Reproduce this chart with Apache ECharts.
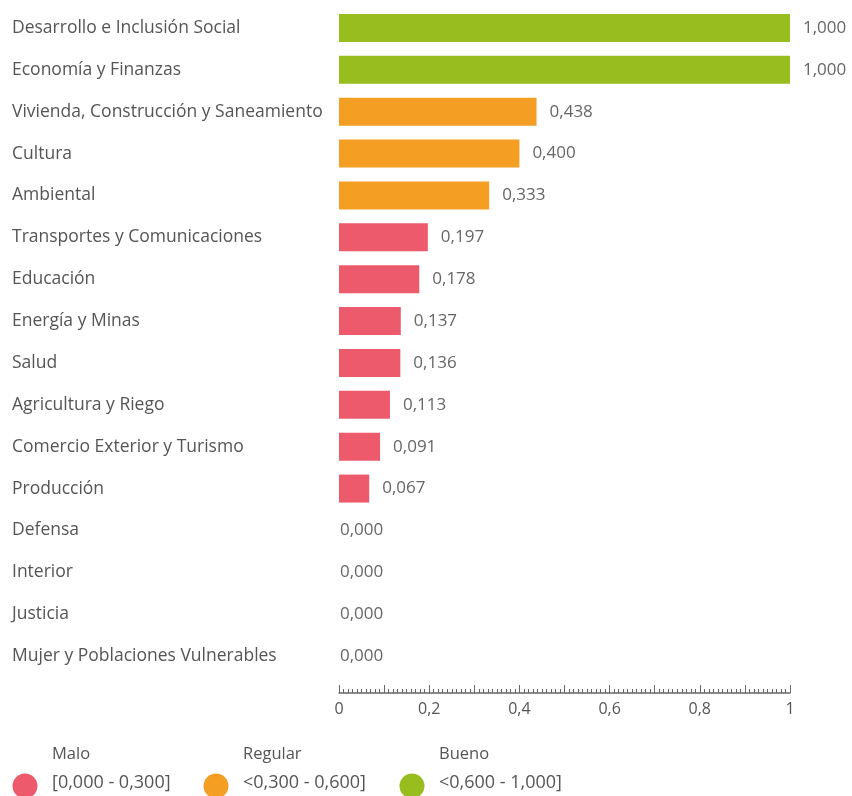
<!DOCTYPE html>
<html><head><meta charset="utf-8">
<script src="https://cdn.jsdelivr.net/npm/echarts@6/dist/echarts.min.js"></script>
<style>html,body{margin:0;padding:0;background:#fff}#c{width:852px;height:796px}</style>
</head><body><div id="c"></div>
<script>
const categories = ["Desarrollo e Inclusión Social","Economía y Finanzas","Vivienda, Construcción y Saneamiento","Cultura","Ambiental","Transportes y Comunicaciones","Educación","Energía y Minas","Salud","Agricultura y Riego","Comercio Exterior y Turismo","Producción","Defensa","Interior","Justicia","Mujer y Poblaciones Vulnerables"];
const values = [1.000,1.000,0.438,0.400,0.333,0.197,0.178,0.137,0.136,0.113,0.091,0.067,0,0,0,0];
const legendNames = ["Malo","Regular","Bueno"];
const legendRanges = ["[0,000 - 0,300]","<0,300 - 0,600]","<0,600 - 1,000]"];
const thresholds = [0.3,0.6,1.0];
const colors = ["#ec5a6b","#f49e23","#98bd1f"];

const FONT = "'Open Sans', sans-serif";
const fmt3 = v => v.toFixed(3).replace('.', ',');
function colorFor(v){ for(let i=0;i<thresholds.length;i++){ if(v<=thresholds[i]) return colors[i]; } return colors[colors.length-1]; }

const data = values.map(v => ({
  value: v,
  itemStyle: {color: colorFor(v)},
  label: {distance: v === 0 ? 1 : 13}
}));

const legendX = [25, 216, 412];
const graphic = [];
legendNames.forEach((n,i)=>{
  graphic.push({type:'circle', shape:{cx:legendX[i], cy:786, r:12.5}, style:{fill:colors[i]}});
  graphic.push({type:'text', left: legendX[i]+27, top: 746, style:{text:n, fill:'#555', font:'16.5px '+FONT}});
  graphic.push({type:'text', left: legendX[i]+27, top: 774, style:{text:legendRanges[i], fill:'#555', font:'18px '+FONT}});
});

const chart = echarts.init(document.getElementById('c'));
chart.setOption({
  animation:false,
  grid:{left:339, right:62, top:7, height:670},
  xAxis:{type:'value', min:0, max:1, interval:0.1, offset:16,
    axisLine:{show:true, lineStyle:{color:'#666', width:1.5}},
    axisTick:{show:true, length:8, inside:true, lineStyle:{color:'#666'}},
    minorTick:{show:true, splitNumber:10, length:4, lineStyle:{color:'#666'}},
    splitLine:{show:false},
    axisLabel:{color:'#555', fontSize:16, fontFamily:FONT, margin:8,
      formatter: v => (Math.round(v*10)%2) ? '' : String(Number(v.toFixed(1))).replace('.',',')}
  },
  yAxis:{type:'category', data:categories, inverse:true,
    axisLine:{show:false}, axisTick:{show:false},
    axisLabel:{align:'left', margin:327, color:'#555', fontSize:17.5, fontFamily:FONT}
  },
  series:[{type:'bar', data:data, barWidth:28,
    label:{show:true, position:'right', color:'#666', fontSize:17, fontFamily:FONT, formatter:p=>fmt3(p.value)}
  }],
  graphic: graphic
});
</script></body></html>
